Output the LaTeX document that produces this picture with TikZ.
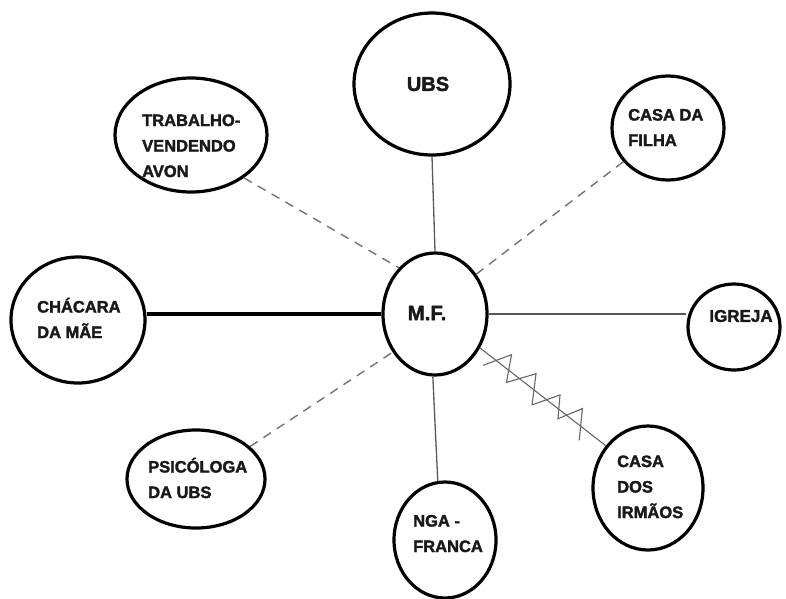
\documentclass[tikz,border=0pt]{standalone}
\usepackage{fontspec}
\setmainfont{Liberation Sans}
\newfontfamily\lbfont{Liberation Sans}[UprightFont=*-Bold, FakeBold=2]
\usetikzlibrary{shapes.geometric,calc}
\begin{document}
\begin{tikzpicture}[x=1pt,y=-1pt,
  circ/.style={draw=black, line width=3.2pt, ellipse, inner sep=0pt},
  lbl/.style={anchor=base west, inner sep=0pt, align=left, text=black!90,
    font=\lbfont\bfseries\fontsize{16.5}{25.5}\selectfont},
  solidline/.style={draw=black!65, line width=1.3pt},
  dashline/.style={draw=black!55, line width=1.4pt, dash pattern=on 9pt off 7pt},
  heavyline/.style={draw=black, line width=4pt},
  zigline/.style={draw=black!60, line width=1.1pt, line join=miter}
]
\useasboundingbox (0,0) rectangle (786,598);

% ellipses
\node[circ, minimum width=156pt, minimum height=142pt] (ubs) at (432,84) {};
\node[circ, minimum width=152pt, minimum height=114pt] (trab) at (191,135) {};
\node[circ, minimum width=112pt, minimum height=104pt] (filha) at (668,128) {};
\node[circ, minimum width=104pt, minimum height=122pt] (mf) at (435,314) {};
\node[circ, minimum width=134pt, minimum height=126pt] (cha) at (78,320) {};
\node[circ, minimum width=92pt, minimum height=86pt] (igreja) at (734,327) {};
\node[circ, minimum width=138pt, minimum height=98pt] (psi) at (196,479) {};
\node[circ, minimum width=102pt, minimum height=116pt] (nga) at (445,540) {};
\node[circ, minimum width=110pt, minimum height=124pt] (irm) at (648,488) {};

% labels
\node[font=\lbfont\bfseries\fontsize{20}{24}\selectfont, text=black!90] (ubst) at (428,84) {UBS};
\node[font=\lbfont\bfseries\fontsize{20.5}{24}\selectfont, text=black!90] (mft) at (427,313) {M.F.};
\node[font=\lbfont\bfseries\fontsize{17}{24}\selectfont, text=black!90] (igrejat) at (741,316) {IGREJA};
\node[lbl] (trabt) at (142,177) {TRABALHO-\\VENDENDO\\AVON};
\node[lbl] (filhat) at (628,146) {CASA DA\\FILHA};
\node[lbl] (chat) at (37,338) {CHÁCARA\\DA MÃE};
\node[lbl] (psit) at (148,498) {PSICÓLOGA\\DA UBS};
\node[lbl] (ngat) at (413,552) {NGA -\\FRANCA};
\node[lbl] (irmt) at (617,518) {CASA\\DOS\\IRMÃOS};

% connectors
\draw[solidline] (ubs.south) -- (mf.north);
\draw[solidline] (mf.east) -- (mf.east -| igreja.west);
\draw[solidline] (mf.-92) -- (nga.97);
\draw[heavyline] (mf.west) -- (mf.west -| cha.east);
\draw[dashline] (trab.-39) -- (mf.128);
\draw[dashline] (filha.217) -- (mf.44);
\draw[dashline] (psi.31) -- (mf.-138);

\coordinate (za) at (mf.-37);
\coordinate (zb) at (irm.135);
\draw[zigline] (za) -- (zb);
\draw[zigline]
  ($(za)!13pt!(zb)!12pt!-90:(zb)$) --
  ($(za)!29pt!(zb)!14pt!90:(zb)$) --
  ($(za)!42pt!(zb)!11pt!-90:(zb)$) --
  ($(za)!60pt!(zb)!14pt!90:(zb)$) --
  ($(za)!76pt!(zb)!13pt!-90:(zb)$) --
  ($(za)!92pt!(zb)!12pt!90:(zb)$) --
  ($(za)!105pt!(zb)!8pt!-90:(zb)$) --
  ($(za)!118pt!(zb)!15pt!90:(zb)$) --
  ($(za)!135pt!(zb)!12pt!-90:(zb)$);
\end{tikzpicture}
\end{document}
